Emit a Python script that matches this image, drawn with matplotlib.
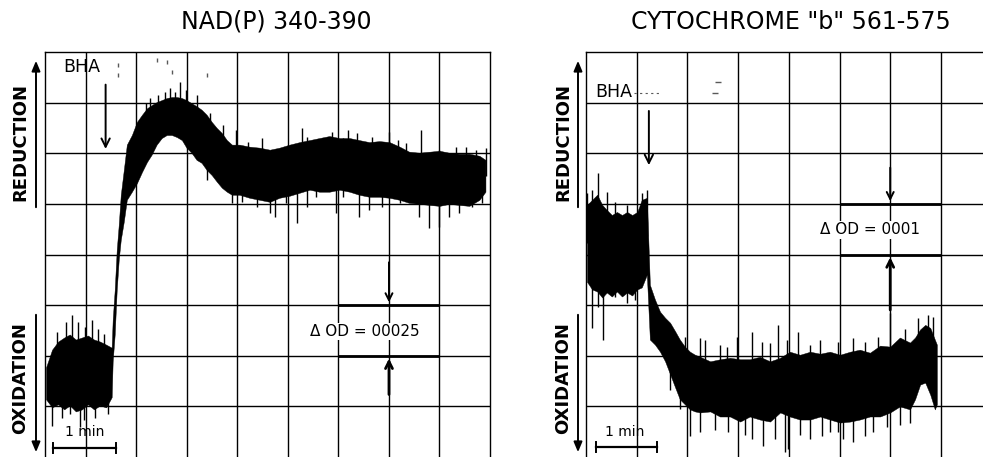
import numpy as np
import matplotlib
matplotlib.use("Agg")
import matplotlib.pyplot as plt

# ---------------- data (units: chart-paper grid divisions) ----------------
# NAD(P) 340-390 trace: noise envelope (upper / lower edge of the band)
nad_x = [0.21, 0.33, 0.45, 0.57, 0.68, 0.80, 0.92, 1.04, 1.16, 1.28, 1.40, 1.51,
         1.53, 1.57, 1.61, 1.65, 1.69, 1.75, 1.81, 1.91, 2.01, 2.11, 2.21, 2.30,
         2.40, 2.50, 2.60, 2.70, 2.80, 2.90, 2.99, 3.09, 3.19, 3.29, 3.39, 3.49,
         3.59, 3.69, 3.79, 3.89, 4.04, 4.24, 4.44, 4.64, 4.83, 5.03, 5.23, 5.43,
         5.62, 5.82, 6.02, 6.22, 6.41, 6.61, 6.81, 7.01, 7.21, 7.40, 7.60, 7.80,
         8.00, 8.19, 8.39, 8.59, 8.79, 8.91]
nad_upper = [1.77, 2.12, 2.28, 2.36, 2.42, 2.32, 2.36, 2.40, 2.32, 2.28, 2.22, 2.16,
             2.71, 3.30, 4.09, 4.59, 5.18, 5.67, 6.17, 6.36, 6.62, 6.76, 6.89, 6.95,
             7.01, 7.05, 7.09, 7.11, 7.11, 7.09, 7.05, 6.99, 6.93, 6.86, 6.76, 6.62,
             6.50, 6.40, 6.26, 6.17, 6.17, 6.13, 6.11, 6.07, 6.11, 6.17, 6.22, 6.26,
             6.30, 6.34, 6.30, 6.30, 6.26, 6.22, 6.24, 6.22, 6.13, 6.03, 6.01, 6.03,
             6.05, 6.01, 5.99, 5.99, 5.95, 5.87]
nad_lower = [1.14, 0.98, 1.04, 0.94, 1.02, 0.90, 0.94, 1.04, 0.94, 1.02, 0.98, 1.18,
             1.89, 2.42, 3.30, 3.90, 4.29, 4.65, 5.08, 5.24, 5.41, 5.63, 5.83, 5.97,
             6.17, 6.30, 6.36, 6.36, 6.32, 6.26, 6.11, 6.01, 5.87, 5.81, 5.67, 5.57,
             5.44, 5.32, 5.24, 5.18, 5.18, 5.12, 5.08, 5.04, 5.12, 5.16, 5.22, 5.28,
             5.24, 5.24, 5.28, 5.24, 5.18, 5.14, 5.14, 5.12, 5.08, 5.02, 5.00, 4.98,
             4.96, 5.00, 4.98, 4.96, 5.08, 5.24]
nad_spike_up_x = [0.43, 0.60, 0.72, 0.84, 0.98, 1.12, 1.24, 1.36,
                  2.19, 2.26, 2.42, 2.56, 2.66, 2.76, 2.86, 2.98,
                  3.19, 3.45, 3.71, 3.98, 4.20, 4.48, 4.97, 5.27, 5.37, 5.59, 5.72,
                  5.88, 6.08, 6.18, 6.36, 6.67, 7.01, 7.17, 7.34, 7.64, 7.80, 8.00,
                  8.33, 8.53, 8.73, 8.93]
nad_spike_up_y = [2.46, 2.67, 2.81, 2.67, 2.56, 2.71, 2.52, 2.42,
                  6.99, 7.09, 7.15, 7.21, 7.29, 7.21, 7.41, 7.25,
                  7.15, 6.79, 6.56, 6.46, 6.22, 6.30, 6.13, 6.50, 6.32, 6.17, 6.26,
                  6.42, 6.30, 6.46, 6.40, 6.32, 6.42, 6.26, 6.20, 6.46, 6.01, 6.07,
                  6.13, 6.13, 6.07, 6.11]
nad_spike_dn_x = [0.33, 0.53, 0.68, 0.88, 0.96, 1.18, 1.43,
                  3.39, 3.90, 4.10, 4.38, 4.64, 4.74, 4.97, 5.17, 5.37, 5.56,
                  5.96, 6.08, 6.41, 6.61, 6.87, 7.21, 7.60, 7.80, 8.00, 8.19,
                  8.39, 8.65, 8.85]
nad_spike_dn_y = [0.62, 0.77, 0.84, 0.59, 0.74, 0.77, 0.84,
                  5.47, 5.02, 5.04, 4.94, 4.82, 4.74, 5.02, 4.62, 4.94, 5.14,
                  4.82, 5.14, 4.74, 4.88, 4.94, 5.02, 4.74, 4.53, 4.55, 4.74,
                  4.82, 4.94, 5.02]

# CYTOCHROME "b" 561-575 trace
cyt_x = [0.02, 0.12, 0.22, 0.32, 0.41, 0.51, 0.61, 0.71, 0.81, 0.91, 1.01, 1.10, 1.20,
         1.26, 1.36, 1.46, 1.56, 1.66, 1.76, 1.85, 1.95, 2.05, 2.15, 2.25, 2.45,
         2.64, 2.84, 3.04, 3.23, 3.43, 3.63, 3.83, 4.02, 4.22, 4.42, 4.62, 4.81,
         5.01, 5.21, 5.40, 5.60, 5.80, 6.00, 6.19, 6.39, 6.49, 6.59, 6.69, 6.79,
         6.88, 6.92]
cyt_upper = [4.98, 5.08, 5.18, 4.98, 4.88, 4.78, 4.84, 4.78, 4.84, 4.78, 4.84, 5.08, 5.12,
             3.40, 3.11, 2.87, 2.75, 2.65, 2.48, 2.32, 2.18, 2.08, 2.02, 1.98, 1.89,
             1.93, 1.96, 1.93, 1.93, 1.98, 1.89, 1.96, 2.08, 2.02, 2.08, 2.04, 2.08,
             2.02, 2.08, 2.12, 2.06, 2.20, 2.18, 2.36, 2.26, 2.36, 2.52, 2.61, 2.55,
             2.32, 2.22]
cyt_lower = [3.46, 3.31, 3.27, 3.15, 3.25, 3.17, 3.27, 3.17, 3.25, 3.19, 3.31, 3.35, 3.60,
             2.32, 2.22, 2.08, 1.89, 1.63, 1.37, 1.14, 1.04, 0.94, 0.90, 0.88, 0.90,
             0.80, 0.80, 0.70, 0.80, 0.74, 0.70, 0.88, 0.80, 0.74, 0.74, 0.80, 0.74,
             0.68, 0.70, 0.74, 0.80, 0.80, 0.88, 1.00, 0.94, 1.14, 1.43, 1.47, 1.23,
             0.94, 1.04]
cyt_spike_up_x = [0.02, 0.12, 0.24, 0.41, 0.57, 0.81, 1.10, 1.20, 1.95, 2.25, 2.35,
                  2.64, 2.78, 2.98, 3.27, 3.47, 3.63, 3.79, 3.96, 4.18, 4.42, 4.62,
                  4.97, 5.27, 5.50, 5.76, 6.00, 6.29, 6.55, 6.75, 6.84]
cyt_spike_up_y = [5.22, 5.28, 5.61, 5.24, 5.04, 4.98, 5.22, 5.28, 2.38, 2.36, 2.32,
                  2.22, 2.18, 2.38, 2.46, 2.28, 2.26, 2.61, 2.32, 2.46, 2.22, 2.32,
                  2.28, 2.36, 2.28, 2.38, 2.85, 2.52, 2.75, 2.81, 2.77]
cyt_spike_dn_x = [0.12, 0.24, 0.34, 0.57, 0.81, 0.97, 1.66, 1.85, 2.05, 2.25, 2.54,
                  2.80, 3.14, 3.27, 3.49, 3.73, 3.93, 3.98, 4.22, 4.42, 4.65, 4.81,
                  4.97, 5.07, 5.27, 5.50, 5.66, 5.94, 6.19, 6.39]
cyt_spike_dn_y = [2.55, 2.97, 2.32, 3.17, 3.05, 3.11, 1.33, 0.94, 0.41, 0.49, 0.54,
                  0.49, 0.44, 0.35, 0.21, 0.35, 0.09, 0.15, 0.44, 0.35, 0.41, 0.49,
                  0.49, 0.35, 0.29, 0.41, 0.49, 0.60, 0.64, 0.68]

titles = ["NAD(P) 340-390", 'CYTOCHROME "b" 561-575']
od_labels = ["Δ OD = 00025", "Δ OD = 0001"]
marker_label = "BHA"
time_label = "1 min"
up_label = "REDUCTION"
down_label = "OXIDATION"

# ---------------- figure ----------------
W, H = 983, 457
fig = plt.figure(figsize=(W / 100, H / 100), dpi=100)
fig.patch.set_facecolor("white")

axL = fig.add_axes([45 / W, 0.0, 445 / W, 405 / H])
axR = fig.add_axes([586 / W, 0.0, 397 / W, 405 / H])


def style(ax, xlim, xgrid, right_spine):
    ax.set_xlim(*xlim)
    ax.set_ylim(0, 8)
    ax.set_xticks(xgrid)
    ax.set_yticks(range(1, 8))
    ax.tick_params(length=0, labelbottom=False, labelleft=False)
    ax.grid(True, color="black", lw=1.0)
    ax.set_axisbelow(True)
    ax.spines["bottom"].set_visible(False)
    ax.spines["right"].set_visible(right_spine)
    for s in ("top", "left", "right"):
        ax.spines[s].set_linewidth(1.0)


style(axL, (0.19, 9.0), range(1, 9), True)
style(axR, (0.0, 7.83), range(1, 8), False)


def trace(ax, x, up, lo, sux, suy, sdx, sdy):
    x = np.asarray(x); up = np.asarray(up); lo = np.asarray(lo)
    ax.fill_between(x, lo, up, color="black", lw=0.3, zorder=3)
    mid = (up + lo) / 2
    ax.vlines(sux, np.interp(sux, x, mid), suy, color="black", lw=1.0, zorder=3)
    ax.vlines(sdx, np.interp(sdx, x, mid), sdy, color="black", lw=1.0, zorder=3)


trace(axL, nad_x, nad_upper, nad_lower, nad_spike_up_x, nad_spike_up_y,
      nad_spike_dn_x, nad_spike_dn_y)
trace(axR, cyt_x, cyt_upper, cyt_lower, cyt_spike_up_x, cyt_spike_up_y,
      cyt_spike_dn_x, cyt_spike_dn_y)

# BHA addition markers
axL.text(0.55, 7.70, marker_label, fontsize=12.5, va="center", ha="left", zorder=5)
axL.annotate("", xy=(1.39, 6.03), xytext=(1.39, 7.41),
             arrowprops=dict(arrowstyle="->,head_length=0.6,head_width=0.3",
                             lw=1.4, color="black"))
axL.plot([1.63, 1.63, 2.40, 2.60, 2.70, 3.39], [7.75, 7.55, 7.85, 7.80, 7.60, 7.55],
         ls="none", marker="|", ms=3, color="0.35")
axR.text(0.18, 7.21, marker_label, fontsize=12.5, va="center", ha="left", zorder=5)
axR.annotate("", xy=(1.24, 5.71), xytext=(1.24, 6.89),
             arrowprops=dict(arrowstyle="->,head_length=0.6,head_width=0.3",
                             lw=1.4, color="black"))
axR.plot([0.95, 1.45], [7.2, 7.2], ls=(0, (2, 3)), lw=0.8, color="0.35")
axR.plot([2.60, 2.55], [7.40, 7.20], ls="none", marker="_", ms=4, color="0.35")


# Delta OD calibration
def calib(ax, x0, x1, xa, ylo, yhi, a_top, a_bot, tx, ty, label):
    ax.plot([x0, x1], [yhi, yhi], color="black", lw=2.0, zorder=4, solid_capstyle="butt")
    ax.plot([x0, x1], [ylo, ylo], color="black", lw=2.0, zorder=4, solid_capstyle="butt")
    ax.annotate("", xy=(xa, yhi), xytext=(xa, a_top),
                arrowprops=dict(arrowstyle="->,head_length=0.5,head_width=0.25",
                                lw=1.4, color="black"))
    ax.annotate("", xy=(xa, ylo), xytext=(xa, a_bot),
                arrowprops=dict(arrowstyle="->,head_length=0.5,head_width=0.25",
                                lw=2.0, color="black"))
    ax.text(tx, ty, label, fontsize=11, ha="center", va="center", zorder=5,
            bbox=dict(facecolor="white", edgecolor="none", pad=1.0))


calib(axL, 6.0, 8.0, 7.0, 2.0, 3.0, 3.90, 1.18, 6.53, 2.48, od_labels[0])
calib(axR, 5.0, 7.0, 6.0, 4.0, 5.0, 5.77, 2.85, 5.60, 4.49, od_labels[1])


# 1 min scale bars
def scalebar(ax, x0, x1, y, tx):
    ax.plot([x0, x1], [y, y], color="black", lw=1.6, zorder=5)
    ax.plot([x0, x0], [y - 0.1, y + 0.1], color="black", lw=1.4, zorder=5)
    ax.plot([x1, x1], [y - 0.1, y + 0.1], color="black", lw=1.4, zorder=5)
    ax.text(tx, 0.50, time_label, fontsize=10, ha="center", va="center", zorder=5)


scalebar(axL, 0.35, 1.59, 0.17, 0.98)
scalebar(axR, 0.20, 1.40, 0.19, 0.77)

# titles
fig.text(276 / W, 1 - 22 / H, titles[0], fontsize=17, ha="center", va="center")
fig.text(791 / W, 1 - 22 / H, titles[1], fontsize=17, ha="center", va="center")

# side labels with arrows
for xl, xa in ((20, 36), (563, 578)):
    fig.text(xl / W, 1 - 142 / H, up_label, rotation=90, fontsize=13,
             fontweight="bold", ha="center", va="center")
    fig.text(xl / W, 1 - 378 / H, down_label, rotation=90, fontsize=13,
             fontweight="bold", ha="center", va="center")
    fig.add_artist(matplotlib.patches.FancyArrowPatch(
        (xa / W, 1 - 210 / H), (xa / W, 1 - 58 / H), transform=fig.transFigure,
        arrowstyle="-|>,head_length=6,head_width=2.5", lw=1.4, color="black"))
    fig.add_artist(matplotlib.patches.FancyArrowPatch(
        (xa / W, 1 - 312 / H), (xa / W, 1 - 455 / H), transform=fig.transFigure,
        arrowstyle="-|>,head_length=6,head_width=2.5", lw=1.4, color="black"))

fig.savefig("out.png", dpi=100, facecolor="white")
